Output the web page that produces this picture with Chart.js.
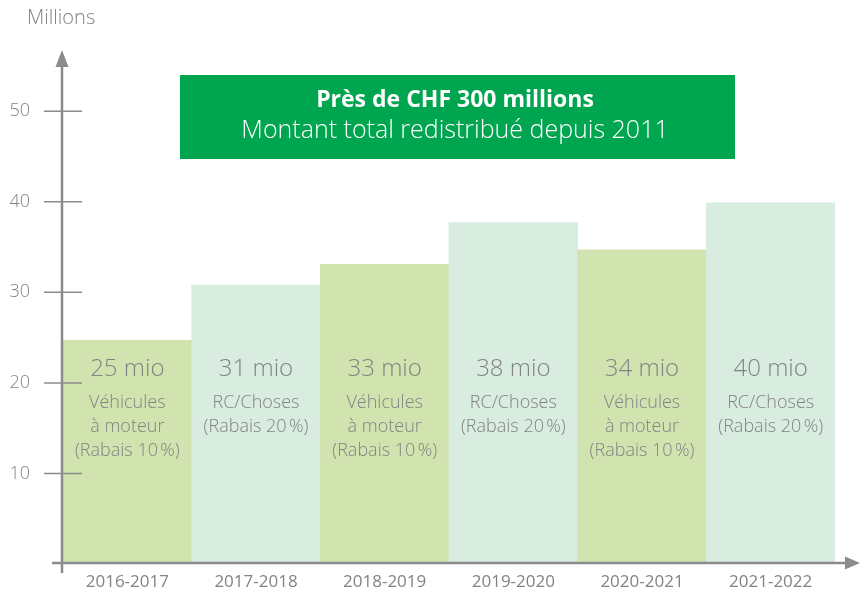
<!DOCTYPE html>
<html>
<head>
<meta charset="utf-8">
<script src="https://cdn.jsdelivr.net/npm/chart.js@4/dist/chart.umd.min.js"></script>
<style>
  html, body { margin: 0; padding: 0; background: #fff; }
  #wrap { position: relative; width: 860px; height: 593px; }
</style>
</head>
<body>
<div id="wrap"><canvas id="chart" width="860" height="593"></canvas></div>
<script>
const periods = ['2016-2017', '2017-2018', '2018-2019', '2019-2020', '2020-2021', '2021-2022'];
const amounts = [24.7, 30.8, 33.1, 37.7, 34.7, 39.9];
const amountLabels = ['25 mio', '31 mio', '33 mio', '38 mio', '34 mio', '40 mio'];
const vehicleLines = ['Véhicules', 'à moteur', '(Rabais 10\u202f%)'];
const propertyLines = ['RC/Choses', '(Rabais 20\u202f%)'];
const categoryLines = [vehicleLines, propertyLines, vehicleLines, propertyLines, vehicleLines, propertyLines];
const yTicks = [10, 20, 30, 40, 50];

const GREY = '#8b8b8d';
const TEXT = '#838385';
const FONT = "'Open Sans', sans-serif";
const barColors = periods.map((_, i) => i % 2 === 0 ? '#d1e3ae' : '#d8ecdf');

const decorations = {
  id: 'decorations',
  afterDraw(chart) {
    const { ctx, scales: { x, y } } = chart;
    const ax = 62, ay = y.getPixelForValue(0) - 1;
    ctx.save();

    // axes
    ctx.strokeStyle = GREY;
    ctx.fillStyle = GREY;
    ctx.lineWidth = 2.5;
    ctx.beginPath();
    ctx.moveTo(ax, 64); ctx.lineTo(ax, 573);
    ctx.moveTo(52, ay); ctx.lineTo(848, ay);
    ctx.stroke();
    ctx.beginPath();
    ctx.moveTo(ax, 50); ctx.lineTo(ax - 6.5, 67); ctx.lineTo(ax + 6.5, 67); ctx.closePath();
    ctx.fill();
    ctx.beginPath();
    ctx.moveTo(860, ay); ctx.lineTo(845, ay - 6.5); ctx.lineTo(845, ay + 6.5); ctx.closePath();
    ctx.fill();

    // tick marks crossing the axis
    ctx.lineWidth = 1.5;
    yTicks.forEach(v => {
      const py = y.getPixelForValue(v);
      ctx.beginPath();
      ctx.moveTo(44, py); ctx.lineTo(82, py);
      ctx.stroke();
    });

    // category labels under the axis
    ctx.fillStyle = TEXT;
    ctx.textAlign = 'center';
    ctx.textBaseline = 'middle';
    ctx.font = `17px ${FONT}`;
    periods.forEach((p, i) => ctx.fillText(p, x.getPixelForValue(i), 582));

    // axis title
    ctx.font = `300 20px ${FONT}`;
    ctx.textAlign = 'left';
    ctx.fillText('Millions', 27, 18);

    // labels inside bars
    const meta = chart.getDatasetMeta(0);
    ctx.textAlign = 'center';
    meta.data.forEach((bar, i) => {
      ctx.font = `300 24px ${FONT}`;
      ctx.fillText(amountLabels[i], bar.x, 369);
      ctx.font = `300 18px ${FONT}`;
      categoryLines[i].forEach((line, j) => {
        ctx.fillText(line, bar.x, 403 + j * 24);
      });
    });

    // banner
    ctx.fillStyle = '#00a54f';
    ctx.fillRect(180, 75, 555, 84);
    ctx.fillStyle = '#ffffff';
    ctx.font = `bold 23px ${FONT}`;
    ctx.fillText('Près de CHF 300 millions', 455, 100);
    ctx.font = `300 25px ${FONT}`;
    ctx.fillText('Montant total redistribué depuis 2011', 455, 131);

    ctx.restore();
  }
};

new Chart(document.getElementById('chart'), {
  type: 'bar',
  data: {
    labels: periods,
    datasets: [{
      data: amounts,
      backgroundColor: barColors,
      borderWidth: 0,
      barPercentage: 1,
      categoryPercentage: 1,
    }]
  },
  options: {
    responsive: false,
    animation: false,
    layout: { padding: { top: 66, right: 25, left: 0, bottom: 29 } },
    plugins: { legend: { display: false }, tooltip: { enabled: false } },
    scales: {
      x: { display: false },
      y: {
        min: 0,
        max: 55,
        afterBuildTicks(scale) { scale.ticks = yTicks.map(v => ({ value: v })); },
        grid: { display: false, drawTicks: true, tickLength: 33 },
        border: { display: false },
        ticks: { color: TEXT, font: { family: FONT, size: 18, weight: 300 }, padding: 0 },
        afterFit(scale) { scale.width = 63; }
      }
    }
  },
  plugins: [decorations]
});
</script>
</body>
</html>
